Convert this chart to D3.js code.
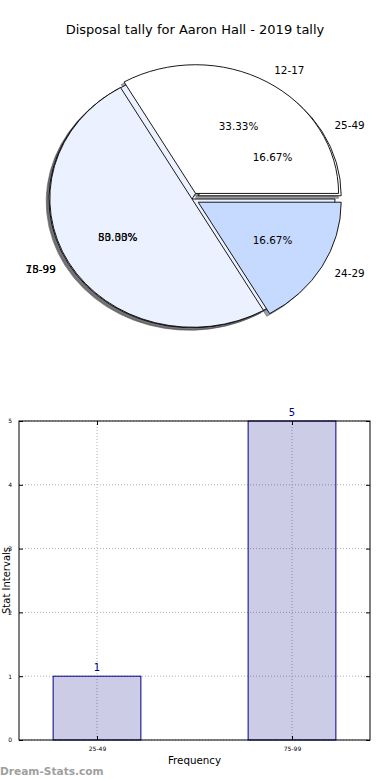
<!DOCTYPE html>
<html>
<head>
<meta charset="utf-8">
<script src="https://cdn.jsdelivr.net/npm/d3@7"></script>
<style>
  body { margin: 0; background: #fff; }
  svg { display: block; font-family: "DejaVu Sans", sans-serif; }
</style>
</head>
<body>
<div id="chart"></div>
<script>
// chart data
var titleText = "Disposal tally for Aaron Hall - 2019 tally";

// first pie (lies underneath)
var pieLabelsA = ["25-49", "75-99"];
var pieValuesA = [1, 5];
var explodeA = [0.05, 0];

// second pie (drawn on top)
var pieLabelsB = ["12-17", "18-99", "24-29"];
var pieValuesB = [2, 3, 1];
var explodeB = [0.05, 0, 0.05];

var pieColors = ["#ffffff", "#ebf1fe", "#c6d9fe"];

// bar chart
var barCategories = ["25-49", "75-99"];
var barValues = [1, 5];
var yTicks = [0, 1, 2, 3, 4, 5];

var width = 390, height = 780;

var svg = d3.select("#chart").append("svg")
    .attr("width", width)
    .attr("height", height);

// title
svg.append("text")
    .attr("x", 195)
    .attr("y", 34)
    .attr("text-anchor", "middle")
    .style("font-size", "13px")
    .text(titleText);

// ---------- pie ----------
var pieC = { x: 192, y: 199, rx: 143, ry: 128.7 };
var px = d3.scaleLinear().domain([-1, 1]).range([pieC.x - pieC.rx, pieC.x + pieC.rx]);
var py = d3.scaleLinear().domain([-1, 1]).range([pieC.y - pieC.ry, pieC.y + pieC.ry]);

// counterclockwise from 3 o'clock, like matplotlib
var pie = d3.pie().sort(null)
    .startAngle(Math.PI / 2)
    .endAngle(Math.PI / 2 - 2 * Math.PI);
var arc = d3.arc().innerRadius(0).outerRadius(1);

function buildSlices(labels, values, explode) {
    return pie(values).map(function(d, i) {
        var m = (d.startAngle + d.endAngle) / 2;
        return {
            arc: d,
            label: labels[i],
            color: pieColors[i],
            dx: Math.sin(m), dy: -Math.cos(m),
            ex: explode[i],
            pct: d.value / d3.sum(values) * 100
        };
    });
}

var slicesA = buildSlices(pieLabelsA, pieValuesA, explodeA);
var slicesB = buildSlices(pieLabelsB, pieValuesB, explodeB);
var allSlices = slicesA.concat(slicesB);

var pieG = svg.append("g")
    .attr("transform", "translate(" + pieC.x + "," + pieC.y + ") scale(" + pieC.rx + "," + pieC.ry + ")");

function shade(c) {
    var rgb = d3.rgb(c);
    return d3.rgb(rgb.r * 0.3, rgb.g * 0.3, rgb.b * 0.3).toString();
}

// shadows go below every wedge
pieG.selectAll("path.shadow")
    .data(allSlices)
    .enter().append("path")
    .attr("class", "shadow")
    .attr("d", function(d) { return arc(d.arc); })
    .attr("transform", function(d) {
        return "translate(" + (d.dx * d.ex - 0.02) + "," + (d.dy * d.ex + 0.02) + ")";
    })
    .attr("fill", function(d) { return shade(d.color); })
    .attr("fill-opacity", 0.5)
    .attr("stroke", function(d) { return shade(d.color); })
    .attr("stroke-opacity", 0.5)
    .attr("stroke-width", 1)
    .attr("vector-effect", "non-scaling-stroke");

// wedges
pieG.selectAll("path.wedge")
    .data(allSlices)
    .enter().append("path")
    .attr("class", "wedge")
    .attr("d", function(d) { return arc(d.arc); })
    .attr("transform", function(d) {
        return "translate(" + (d.dx * d.ex) + "," + (d.dy * d.ex) + ")";
    })
    .attr("fill", function(d) { return d.color; })
    .attr("stroke", "#000")
    .attr("stroke-width", 0.9)
    .attr("vector-effect", "non-scaling-stroke");

// labels and percentages
allSlices.forEach(function(d) {
    var lx = d.dx * (d.ex + 1.1), ly = d.dy * (d.ex + 1.1);
    svg.append("text")
        .attr("x", px(lx))
        .attr("y", py(ly))
        .attr("dy", "0.35em")
        .attr("text-anchor", lx > 0 ? "start" : "end")
        .style("font-size", "10.4px")
        .text(d.label);

    svg.append("text")
        .attr("x", px(d.dx * (d.ex + 0.6)))
        .attr("y", py(d.dy * (d.ex + 0.6)))
        .attr("dy", "0.35em")
        .attr("text-anchor", "middle")
        .style("font-size", "10.4px")
        .text(d.pct.toFixed(2) + "%");
});

// ---------- bar chart ----------
var plot = { left: 19, right: 370, top: 421, bottom: 740 };
var barWidth = 0.45;

var x = d3.scaleLinear().domain([-0.4, 1.4]).range([plot.left, plot.right]);
var y = d3.scaleLinear().domain([0, 5]).range([plot.bottom, plot.top]);

var barG = svg.append("g");

// grid
barG.selectAll("line.hgrid")
    .data(yTicks)
    .enter().append("line")
    .attr("x1", plot.left).attr("x2", plot.right)
    .attr("y1", function(d) { return y(d); })
    .attr("y2", function(d) { return y(d); })
    .attr("stroke", "#b0b0b0")
    .attr("stroke-dasharray", "1,2");

barG.selectAll("line.vgrid")
    .data(barCategories)
    .enter().append("line")
    .attr("x1", function(d, i) { return x(i); })
    .attr("x2", function(d, i) { return x(i); })
    .attr("y1", plot.top).attr("y2", plot.bottom)
    .attr("stroke", "#b0b0b0")
    .attr("stroke-dasharray", "1,2");

// bars
barG.selectAll("rect.bar")
    .data(barValues)
    .enter().append("rect")
    .attr("x", function(d, i) { return x(i - barWidth / 2); })
    .attr("y", function(d) { return y(d); })
    .attr("width", x(barWidth) - x(0))
    .attr("height", function(d) { return y(0) - y(d); })
    .attr("fill", "navy")
    .attr("fill-opacity", 0.2)
    .attr("stroke", "navy")
    .attr("stroke-width", 1);

// value labels
barG.selectAll("text.value")
    .data(barValues)
    .enter().append("text")
    .attr("x", function(d, i) { return x(i); })
    .attr("y", function(d) { return y(d) - 5; })
    .attr("text-anchor", "middle")
    .attr("fill", "navy")
    .style("font-size", "10px")
    .text(function(d) { return d; });

// frame
barG.append("rect")
    .attr("x", plot.left).attr("y", plot.top)
    .attr("width", plot.right - plot.left)
    .attr("height", plot.bottom - plot.top)
    .attr("fill", "none")
    .attr("stroke", "#000")
    .attr("stroke-width", 1);

// axes with inward ticks
var yAxis = d3.axisLeft(y).tickValues(yTicks).tickSize(-4).tickPadding(7).tickFormat(d3.format("d"));
var yAxisR = d3.axisRight(y).tickValues(yTicks).tickSize(-4).tickFormat("");
var xAxis = d3.axisBottom(x).tickValues(barCategories.map(function(d, i) { return i; }))
    .tickSize(-4).tickPadding(7).tickFormat(function(i) { return barCategories[i]; });
var xAxisT = d3.axisTop(x).tickValues(barCategories.map(function(d, i) { return i; }))
    .tickSize(-4).tickFormat("");

function styleAxis(g) {
    g.select(".domain").remove();
    g.selectAll(".tick line").attr("stroke", "#000");
    g.selectAll("text").style("font-size", "6px").style("font-family", "DejaVu Sans").attr("fill", "#000");
}

barG.append("g").attr("transform", "translate(" + plot.left + ",0)").call(yAxis).call(styleAxis);
barG.append("g").attr("transform", "translate(" + plot.right + ",0)").call(yAxisR).call(styleAxis);
barG.append("g").attr("transform", "translate(0," + plot.bottom + ")").call(xAxis).call(styleAxis);
barG.append("g").attr("transform", "translate(0," + plot.top + ")").call(xAxisT).call(styleAxis);

// axis titles
svg.append("text")
    .attr("x", (plot.left + plot.right) / 2)
    .attr("y", 764)
    .attr("text-anchor", "middle")
    .style("font-size", "10.3px")
    .text("Frequency");

svg.append("text")
    .attr("transform", "translate(9.5," + ((plot.top + plot.bottom) / 2) + ") rotate(-90)")
    .attr("text-anchor", "middle")
    .style("font-size", "10px")
    .text("Stat Intervals");

// watermark
svg.append("text")
    .attr("x", 0)
    .attr("y", 775)
    .attr("fill", "#a0a0a0")
    .style("font-size", "10.6px")
    .style("font-weight", "bold")
    .text("Dream-Stats.com");
</script>
</body>
</html>
